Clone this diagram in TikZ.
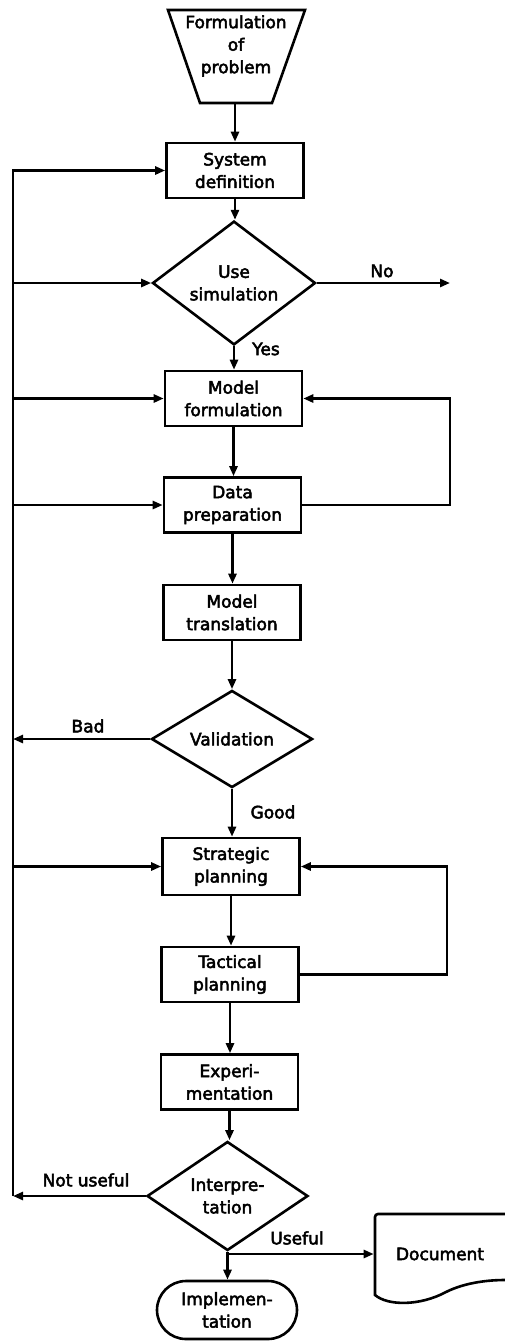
\documentclass[tikz,border=0pt]{standalone}
\usepackage{fontspec}
\setmainfont{DejaVu Sans}[FakeBold=3]
\usetikzlibrary{shapes.geometric,shapes.misc,arrows.meta}
\begin{document}
\begin{tikzpicture}[x=1pt,y=-1pt,
  font=\fontsize{17}{22.5}\selectfont,
  line width=2.6pt, line join=miter,
  >={Triangle[length=10pt,width=8pt]},
  proc/.style={draw, rectangle, minimum width=137pt, minimum height=55pt, align=center, inner sep=0pt},
  dec/.style={draw, diamond, minimum width=162pt, minimum height=95pt, align=center, inner sep=0pt},
  lbl/.style={inner sep=0pt, font=\fontsize{17}{22.5}\selectfont}]
\useasboundingbox (0,0) rectangle (505,1341);

% trapezoid
\coordinate (probtl) at (168,10);
\coordinate (probtr) at (305,10);
\coordinate (probbr) at (272,103);
\coordinate (probbl) at (200,103);
\coordinate (prob) at (235,103);
\draw (probtl) -- (probtr) -- (probbr) -- (probbl) -- cycle;
\node[align=center, inner sep=0pt] (probtxt) at (236,46) {Formulation\\of\\problem};

% nodes
\node[proc] (sys) at (235,170.5) {System\\definition};
\node[dec, minimum width=163pt] (usesim) at (234,283) {Use\\simulation};
\node[proc] (modf) at (233.5,398.5) {Model\\formulation};
\node[proc] (data) at (232.5,505) {Data\\preparation};
\node[proc] (trans) at (232,612.5) {Model\\translation};
\node[dec, minimum width=161pt] (valid) at (232,739) {Validation};
\node[proc, minimum height=57pt] (strat) at (231,866.5) {Strategic\\planning};
\node[proc] (tact) at (230,974.5) {Tactical\\planning};
\node[proc] (exper) at (229.5,1082) {Experi-\\mentation};
\node[dec, minimum width=161pt, minimum height=96pt] (interp) at (227.5,1196) {Interpre-\\tation};
\node[draw, rounded rectangle, minimum width=140pt, minimum height=58pt, inner sep=0pt, align=center] (impl) at (227,1310) {Implemen-\\tation};
\node[minimum width=130pt, minimum height=80pt, inner sep=0pt] (doc) at (440,1254) {Document};
\draw (505,1214) -- (378,1214) to[out=180,in=90] (375,1217) -- (375,1295)
      .. controls (388,1306) and (420,1306) .. (446,1292)
      .. controls (466,1282) and (490,1280) .. (505,1280);

% helper coordinates
\coordinate (Lbot) at (13,1196);
\coordinate (R1) at (450,0);
\coordinate (R2) at (447,0);
\coordinate (noend) at (450,283);

% main flow
\draw[->] (prob) -- (prob |- sys.north);
\draw[->] (sys.south) -- (sys.south |- usesim.north);
\draw[->] (usesim.south) -- (usesim.south |- modf.north);
\draw[->] (modf.south) -- (modf.south |- data.north);
\draw[->] (data.south) -- (data.south |- trans.north);
\draw[->] (trans.south) -- (trans.south |- valid.north);
\draw[->] (valid.south) -- (valid.south |- strat.north);
\draw[->] (strat.south) -- (strat.south |- tact.north);
\draw[->] (tact.south) -- (tact.south |- exper.north);
\draw[->] (exper.south) -- (exper.south |- interp.north);
\draw[->] (interp.south) -- (interp.south |- impl.north);
\draw[->] (interp.south |- doc.west) -- (doc.west);
\draw[->] (usesim.east) -- (noend);

% right loops
\draw[->] (data.east) -- (data.east -| R1) |- (modf.east);
\draw[->] (tact.east) -- (tact.east -| R2) |- (strat.east);

% left feedback
\draw[->] (interp.west) -- (Lbot);
\draw[->] (Lbot) |- (sys.west);
\draw[->] (usesim.west -| Lbot) -- (usesim.west);
\draw[->] (modf.west -| Lbot) -- (modf.west);
\draw[->] (data.west -| Lbot) -- (data.west);
\draw[->] (strat.west -| Lbot) -- (strat.west);
\draw[->] (valid.west) -- (valid.west -| Lbot);

% labels
\node[lbl] (lno) at (382,271) {No};
\node[lbl] (lyes) at (266,349) {Yes};
\node[lbl] (lbad) at (88,726) {Bad};
\node[lbl] (lgood) at (273,812) {Good};
\node[lbl] (lnot) at (86,1180) {Not useful};
\node[lbl] (luse) at (297,1238) {Useful};
\end{tikzpicture}
\end{document}
